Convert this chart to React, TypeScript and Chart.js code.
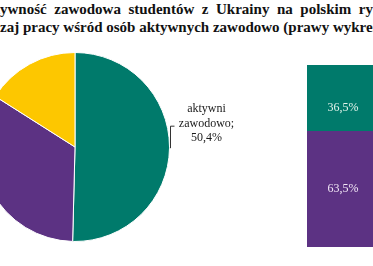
import React, { useEffect, useRef } from "react";
import { Chart, registerables } from "chart.js";

Chart.register(...registerables);

// ---- data ----
const titleLine1 = ["Akt", "ywność zawodowa studentów z Ukrainy na polskim rynku pracy (lewy wykres) oraz"];
const titleLine2 = ["rod", "zaj pracy wśród osób aktywnych zawodowo (prawy wykres)"];

const pieLabels = ["aktywni zawodowo", "nieaktywni zawodowo", "poszukujący pracy"];
const pieValues = [50.4, 33.6, 16.0];
const pieColors = ["#007a6b", "#5c3283", "#fdc700"];

const barCategories = ["rodzaj pracy"];
const barSeriesNames = ["praca niezgodna z kierunkiem", "praca zgodna z kierunkiem"];
const barValuesBottom = [63.5];
const barValuesTop = [36.5];
const barColors = ["#5c3283", "#007a6b"];

const fmt = (v: number) => v.toFixed(1).replace(".", ",") + "%";
const SERIF = '"Liberation Serif", "DejaVu Serif", serif';

export default function App() {
  const pieRef = useRef<HTMLCanvasElement | null>(null);
  const barRef = useRef<HTMLCanvasElement | null>(null);

  useEffect(() => {
    document.body.style.margin = "0";
    const pieLabelPlugin = {
      id: "pieLabel",
      afterDatasetsDraw(chart: any) {
        const ctx = chart.ctx;
        const meta = chart.getDatasetMeta(0);
        const arc = meta.data[0];
        const { x, y, startAngle, endAngle, outerRadius } = arc.getProps(
          ["x", "y", "startAngle", "endAngle", "outerRadius"],
          true
        );
        const mid = (startAngle + endAngle) / 2;
        const px = x + outerRadius * Math.cos(mid);
        const py = y + outerRadius * Math.sin(mid);
        ctx.save();
        ctx.strokeStyle = "#333";
        ctx.lineWidth = 1;
        ctx.beginPath();
        ctx.moveTo(Math.round(px + 1) + 0.5, py);
        ctx.lineTo(Math.round(px + 1) + 0.5, py - 22);
        ctx.lineTo(px + 5, py - 22);
        ctx.stroke();
        ctx.fillStyle = "#1a1a1a";
        ctx.font = "12px " + SERIF;
        ctx.textAlign = "center";
        ctx.textBaseline = "middle";
        const words = pieLabels[0].split(" ");
        const lines = [words[0], words[1] + ";", fmt(pieValues[0])];
        const cx = px + 37;
        const ys = [py - 39, py - 24, py - 10];
        lines.forEach((t, i) => ctx.fillText(t, cx, ys[i]));
        ctx.restore();
      },
    };

    const pie = new Chart(pieRef.current!, {
      type: "pie",
      data: {
        labels: pieLabels,
        datasets: [
          {
            data: pieValues,
            backgroundColor: pieColors,
            borderColor: "#ffffff",
            borderWidth: 1,
          },
        ],
      },
      options: {
        responsive: false,
        animation: false,
        layout: { padding: { left: 5, top: 5, bottom: 5, right: 105 } },
        plugins: { legend: { display: false }, tooltip: { enabled: false }, title: { display: false } },
      },
      plugins: [pieLabelPlugin],
    });

    const barLabelPlugin = {
      id: "barLabel",
      afterDatasetsDraw(chart: any) {
        const ctx = chart.ctx;
        ctx.save();
        ctx.font = "12px " + SERIF;
        ctx.textAlign = "center";
        ctx.textBaseline = "middle";
        chart.data.datasets.forEach((ds: any, di: number) => {
          const meta = chart.getDatasetMeta(di);
          meta.data.forEach((bar: any, i: number) => {
            const { x, y, base } = bar.getProps(["x", "y", "base"], true);
            const cy = (y + base) / 2 + (di === 1 ? 10 : 0);
            ctx.fillStyle = di === 1 ? "#e4f4ec" : "#f2e8f6";
            ctx.fillText(fmt(ds.data[i]), x, cy);
          });
        });
        ctx.restore();
      },
    };

    const bar = new Chart(barRef.current!, {
      type: "bar",
      data: {
        labels: barCategories,
        datasets: [
          { label: barSeriesNames[0], data: barValuesBottom, backgroundColor: barColors[0], borderWidth: 0 },
          { label: barSeriesNames[1], data: barValuesTop, backgroundColor: barColors[1], borderWidth: 0 },
        ],
      },
      options: {
        responsive: false,
        animation: false,
        layout: { padding: 10 },
        datasets: { bar: { categoryPercentage: 1, barPercentage: 1 } },
        scales: {
          x: { stacked: true, display: false },
          y: { stacked: true, display: false, min: 0, max: 100 },
        },
        plugins: { legend: { display: false }, tooltip: { enabled: false } },
      },
      plugins: [barLabelPlugin],
    });

    return () => {
      pie.destroy();
      bar.destroy();
    };
  }, []);

  const titleStyle: React.CSSProperties = {
    position: "absolute",
    left: 0,
    whiteSpace: "nowrap",
    font: "bold 15px " + SERIF,
    color: "#111",
    lineHeight: "18px",
  };

  return (
    <div
      style={{
        position: "fixed",
        left: 0,
        top: 0,
        width: 373,
        height: 266,
        overflow: "hidden",
        background: "#fff",
      }}
    >
      <div style={{ ...titleStyle, top: 0, wordSpacing: "3.8px" }}>
        <span style={{ position: "absolute", right: "100%" }}>{titleLine1[0]}</span>
        {titleLine1[1]}
      </div>
      <div style={{ ...titleStyle, top: 18 }}>
        <span style={{ position: "absolute", right: "100%" }}>{titleLine2[0]}</span>
        {titleLine2[1]}
      </div>
      <canvas
        ref={pieRef}
        width={300}
        height={200}
        style={{ position: "absolute", left: -25, top: 47, width: 300, height: 200 }}
      />
      <canvas
        ref={barRef}
        width={92}
        height={202}
        style={{ position: "absolute", left: 297, top: 55, width: 92, height: 202 }}
      />
    </div>
  );
}
